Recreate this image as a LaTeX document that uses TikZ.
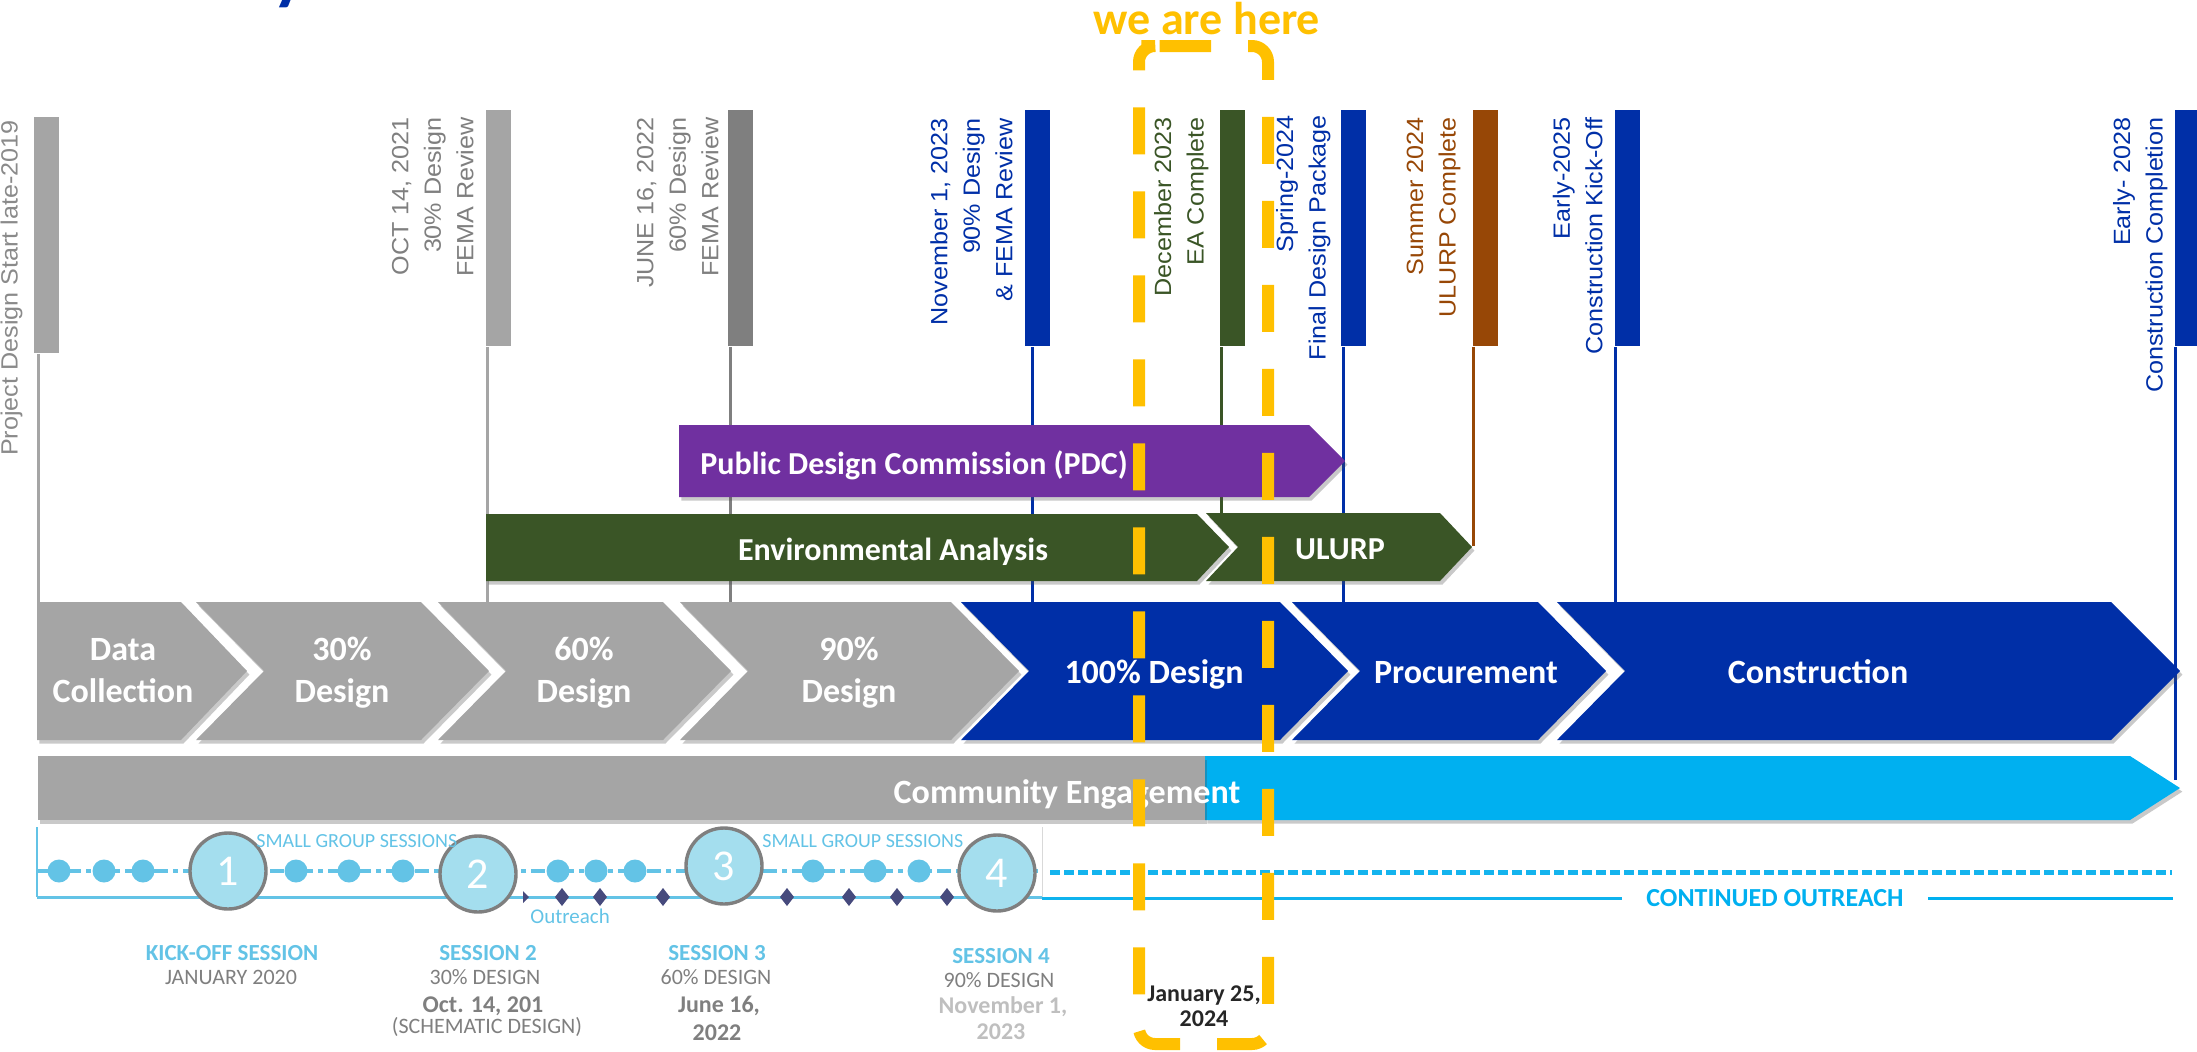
\documentclass[tikz,border=0pt]{standalone}
\usepackage{fontspec}
\setmainfont{Liberation Sans}
\newfontfamily\cfont{Carlito}
\newfontfamily\mfont[FakeStretch=1.07]{Liberation Sans}
\usepackage{graphicx}
\usetikzlibrary{shadows,calc}
\definecolor{cgray}{HTML}{A5A5A5}
\definecolor{cblue}{HTML}{002FA7}
\definecolor{cgreen}{HTML}{3A5526}
\definecolor{cbrown}{HTML}{974706}
\definecolor{cpurple}{HTML}{7030A0}
\definecolor{ccyan}{HTML}{00B0F0}
\definecolor{clight}{HTML}{63C3E6}
\definecolor{cfill}{HTML}{A4DEEE}
\definecolor{cnavy}{HTML}{464A7D}
\definecolor{cyel}{HTML}{FFC000}
\definecolor{tgray}{HTML}{8A8A8A}
\definecolor{dgray}{HTML}{7F7F7F}
\newcommand\mychev[3]{\fill[#3,shad] (#1,602) -- (#2,602) -- ({#2+68},671) -- (#2,740) -- (#1,740) -- ({#1+68},671) -- cycle;}
\begin{document}
\begin{tikzpicture}[x=0.5pt,y=-0.5pt,
  mbar/.style={rectangle, inner sep=0pt, minimum width=12.5pt, minimum height=118pt, anchor=north west},
  mtext/.style={rotate=90, anchor=south east, align=right, inner sep=0pt, font=\mfont\fontsize{11.75}{16.25}\selectfont},
  mline/.style={line width=1.5pt},
  shad/.style={drop shadow={shadow xshift=1.2pt, shadow yshift=-1.8pt, opacity=0.3, fill=black!70}},
  wlab/.style={text=white, font=\cfont\bfseries\fontsize{17}{21}\selectfont, anchor=base, inner sep=0pt},
  blab/.style={text=white, font=\cfont\bfseries\fontsize{16}{20}\selectfont, anchor=base, inner sep=0pt},
  sess/.style={circle, fill=cfill, draw=dgray, line width=1.7pt, minimum size=38pt, inner sep=0pt, text=white, font=\cfont\fontsize{22}{22}\selectfont},
  shead/.style={text=clight, font=\cfont\bfseries\fontsize{11.5}{12}\selectfont, anchor=base, inner sep=0pt},
  sgray/.style={text=dgray, font=\cfont\fontsize{11}{12}\selectfont, anchor=base, inner sep=0pt},
  sdate/.style={font=\cfont\bfseries\fontsize{12}{12}\selectfont, anchor=base, inner sep=0pt},
  small/.style={text=clight, font=\cfont\fontsize{10}{10}\selectfont, anchor=base west, inner sep=0pt}
]
\useasboundingbox (0,0) rectangle (2197,1051);

% cut-off title glyph
\begin{scope}
\clip (0,0) rectangle (2197,1051);
\node[anchor=base, text=cblue, font=\cfont\bfseries\fontsize{36}{36}\selectfont, inner sep=0pt] (ttl) at (290,-4) {y};
\end{scope}

% milestone bars
\node[mbar, fill=cgray, minimum height=118pt] (bProj) at (34,117) {};
\node[mbar, fill=cgray] (bOct) at (486,110) {};
\node[mbar, fill=dgray] (bJune) at (728,110) {};
\node[mbar, fill=cblue] (bNov) at (1025,110) {};
\node[mbar, fill=cgreen] (bDec) at (1220,110) {};
\node[mbar, fill=cblue] (bFin) at (1341,110) {};
\node[mbar, fill=cbrown] (bSum) at (1473,110) {};
\node[mbar, fill=cblue] (bE25) at (1615,110) {};
\node[mbar, fill=cblue] (bE28) at (2175,110) {};

% milestone lines
\coordinate (eProj) at (38,602);
\coordinate (eOct) at (487,602);
\coordinate (eJune) at (730,602);
\coordinate (eNov) at (1032,602);
\coordinate (eDec) at (1221,513);
\coordinate (eFin) at (1343,602);
\coordinate (eSum) at (1473,546);
\coordinate (eE25) at (1615,602);
\coordinate (eE28) at (2175,780);
\draw[mline, cgray] (bProj.south west -| eProj) -- (eProj);
\draw[mline, cgray] (bOct.south west -| eOct) -- (eOct);
\draw[mline, dgray] (bJune.south west -| eJune) -- (eJune);
\draw[mline, cblue] (bNov.south west -| eNov) -- (eNov);
\draw[mline, cgreen] (bDec.south west -| eDec) -- (eDec);
\draw[mline, cblue] (bFin.south west -| eFin) -- (eFin);
\draw[mline, cbrown] (bSum.south west -| eSum) -- (eSum);
\draw[mline, cblue] (bE25.south west -| eE25) -- (eE25);
\draw[mline, cblue] (bE28.south west -| eE28) -- (eE28);

% milestone texts
\node[mtext, text=tgray] (tProj) at (23,120) {Project Design Start late-2019};
\node[mtext, text=dgray] (tOct) at (474,117) {OCT 14, 2021\\30\% Design\\FEMA Review};
\node[mtext, text=dgray] (tJune) at (719,117) {JUNE 16, 2022\\60\% Design\\FEMA Review};
\node[mtext, text=cblue] (tNov) at (1013,118) {November 1, 2023\\90\% Design\\\& FEMA Review};
\node[mtext, text=cgreen] (tDec) at (1209,117) {December 2023\\EA Complete};
\node[mtext, text=cblue] (tSpr) at (1331,115) {Spring-2024\\Final Design Package};
\node[mtext, text=cbrown] (tSum) at (1461,117) {Summer 2024\\ULURP Complete};
\node[mtext, text=cblue] (tE25) at (1603,117) {Early-2025\\Construction Kick-Off};
\node[mtext, text=cblue] (tE28) at (2168,117) {Early- 2028\\Construction Completion};

% PDC, EA, ULURP
\fill[cpurple, shad] (679,425) -- (1309,425) -- (1345,461) -- (1309,497) -- (679,497) -- cycle;
\node[blab, anchor=base west] (pdc) at (700,474) {Public Design Commission (PDC)};
\fill[cgreen, shad] (486,514) -- (1197,514) -- (1229,547) -- (1197,581) -- (486,581) -- cycle;
\node[blab] (ea) at (893,560) {Environmental Analysis};
\fill[cgreen, shad] (1206,513) -- (1440,513) -- (1472,547) -- (1440,581) -- (1206,581) -- (1238,547) -- cycle;
\node[blab] (ulurp) at (1340,559) {ULURP};

% main chevrons
\fill[cgray,shad] (37,602) -- (181,602) -- (247,671) -- (181,740) -- (37,740) -- cycle;
\mychev{196}{421}{cgray}
\mychev{438}{663}{cgray}
\mychev{680}{951}{cgray}
\mychev{961}{1280}{cblue}
\mychev{1292}{1538}{cblue}
\fill[cblue,shad] (1557,602) -- (2111,602) -- (2180,671) -- (2111,740) -- (1557,740) -- (1625,671) -- cycle;
\node[wlab] (c1a) at (123,660) {Data};
\node[wlab] (c1b) at (123,702) {Collection};
\node[wlab] (c2a) at (342,660) {30\%};
\node[wlab] (c2b) at (342,702) {Design};
\node[wlab] (c3a) at (584,660) {60\%};
\node[wlab] (c3b) at (584,702) {Design};
\node[wlab] (c4a) at (849,660) {90\%};
\node[wlab] (c4b) at (849,702) {Design};
\node[wlab] (c5) at (1154,683) {100\% Design};
\node[wlab] (c6) at (1466,683) {Procurement};
\node[wlab] (c7) at (1818,683) {Construction};

% community engagement
\fill[ccyan, shad] (1205,756) -- (2130,756) -- (2180,788) -- (2130,820) -- (1205,820) -- cycle;
\fill[cgray, shad] (38,756) rectangle (1205,820);
\node[wlab] (ce) at (1067,803) {Community Engagement};

% sessions row
\draw[clight, line width=0.6pt] (37,827) -- (37,897);
\draw[black!15, line width=0.5pt] (1042,827) -- (1042,900);
\draw[clight, line width=1.5pt] (37,897) -- (1042,897);
\node[font=\cfont\bfseries\fontsize{13}{13}\selectfont, text=ccyan, inner xsep=12pt, inner ysep=0pt] (co) at (1775,898) {CONTINUED OUTREACH};
\coordinate (ol) at (1042,898);
\coordinate (or) at (2173,898);
\draw[ccyan!85!clight, line width=1.5pt] (ol) -- (co.west);
\draw[ccyan, line width=1.5pt] (co.east) -- (or);
\draw[clight, line width=2pt, dash pattern=on 7pt off 2.5pt on 2.5pt off 2.5pt] (38,871) -- (1040,871);
\draw[ccyan!80!clight, line width=2.5pt, dash pattern=on 5pt off 2pt] (1050,872) -- (2172,872);
\foreach \x in {59,104,143,296,349,403,558,596,635,813,875,919}
  \fill[clight] (\x,871) circle (11.5);
\foreach \x in {562,600,663,787,849,897,947}
  \fill[cnavy] (\x,888) -- ({\x+7},897) -- (\x,906) -- ({\x-7},897) -- cycle;
\fill[cnavy] (523,891) -- (529,897) -- (523,903) -- cycle;
\node[sess] (s1) at (228,871) {1};
\node[sess] (s2) at (478,874) {2};
\node[sess] (s3) at (724,866) {3};
\node[sess] (s4) at (997,873) {4};
\node[small] (sg1) at (256,847) {SMALL GROUP SESSIONS};
\node[small] (sg2) at (762,847) {SMALL GROUP SESSIONS};
\node[small, font=\cfont\fontsize{10.5}{10.5}\selectfont] (out) at (530,923) {Outreach};

% session labels
\node[shead] (k1) at (232,960) {KICK-OFF SESSION};
\node[sgray] (k2) at (231,984) {JANUARY 2020};
\node[shead] (s2a) at (488,960) {SESSION 2};
\node[sgray] (s2b) at (485,984) {30\% DESIGN};
\node[sdate, text=dgray] (s2c) at (483,1012) {Oct. 14, 201};
\node[sgray] (s2d) at (487,1033) {(SCHEMATIC DESIGN)};
\node[shead] (s3a) at (717,960) {SESSION 3};
\node[sgray] (s3b) at (716,984) {60\% DESIGN};
\node[sdate, text=dgray] (s3c) at (719,1012) {June 16,};
\node[sdate, text=dgray] (s3d) at (717,1040) {2022};
\node[shead] (s4a) at (1001,963) {SESSION 4};
\node[sgray] (s4b) at (999,987) {90\% DESIGN};
\node[sdate, text=black!25] (s4c) at (1003,1013) {November 1,};
\node[sdate, text=black!25] (s4d) at (1001,1039) {2023};
\node[sdate, text=black!85] (j1) at (1204,1001) {January 25,};
\node[sdate, text=black!85] (j2) at (1204,1026) {2024};

% we are here
\node[text=cyel, font=\cfont\bfseries\fontsize{23}{23}\selectfont, anchor=base, inner sep=0pt] (wah) at (1207,34) {we are here};
\draw[cyel, line width=6pt, dash pattern=on 23.5pt off 18.5pt, rounded corners=8pt] (1148,46) -- (1268,46) -- (1268,1044) -- (1139,1044) -- (1139,46) -- cycle;
\end{tikzpicture}
\end{document}
